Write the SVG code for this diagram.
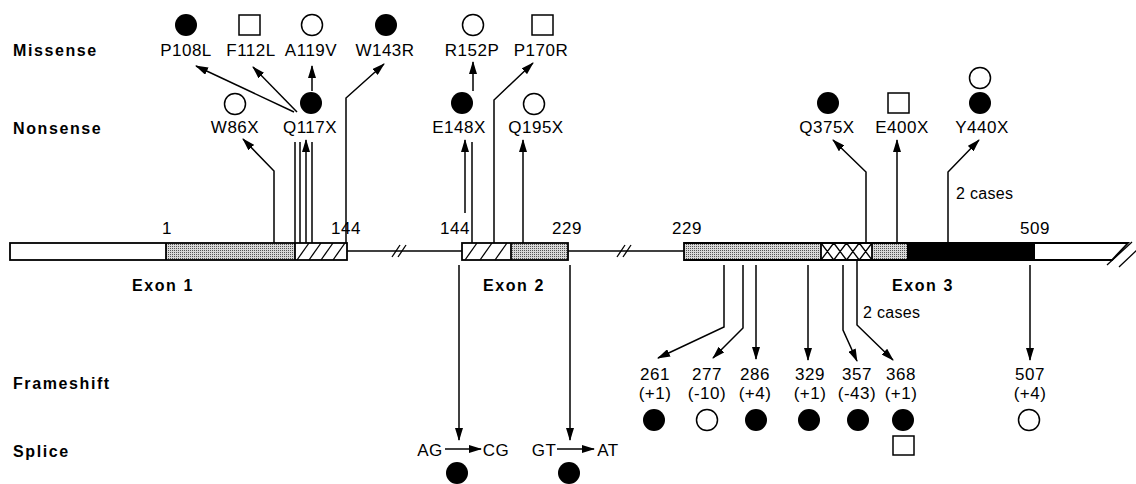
<svg xmlns="http://www.w3.org/2000/svg" width="1136" height="484" viewBox="0 0 1136 484">
<style>
text{font-family:"Liberation Sans",Arial,sans-serif;fill:#000}
.t{font-size:17px;letter-spacing:0.5px;text-anchor:middle}
.row{font-size:16px;font-weight:bold;letter-spacing:1.6px}
.ex{font-size:16px;font-weight:bold;letter-spacing:1.6px;text-anchor:middle}
.sm{font-size:16px;letter-spacing:0.3px}
.ln{stroke:#000;stroke-width:1.5;fill:none}
.ar{stroke:#000;stroke-width:1.5;fill:none;marker-end:url(#ah)}
.box{stroke:#000;stroke-width:1.8}
.fc{fill:#000}
.oc{fill:#fff;stroke:#000;stroke-width:1.5}
.sq{fill:#fff;stroke:#000;stroke-width:1.5}
.h{stroke:#000;stroke-width:1.3}
</style>
<defs>
<marker id="ah" markerUnits="userSpaceOnUse" markerWidth="13" markerHeight="8" refX="12" refY="4" orient="auto">
<path d="M0,0 L13,4 L0,8 z" fill="#000"/>
</marker>
<pattern id="dots" width="2" height="2" patternUnits="userSpaceOnUse">
<rect width="2" height="2" fill="#d8d8d8"/>
<rect width="1" height="1" fill="#555"/>
</pattern>
</defs>

<g id="row-labels">
<text class="row" x="13" y="56">Missense</text>
<text class="row" x="13" y="134">Nonsense</text>
<text class="row" x="13" y="389">Frameshift</text>
<text class="row" x="13" y="457">Splice</text>
</g>

<g id="gene">
<line class="ln" x1="347" y1="251" x2="462" y2="251"/>
<line class="ln" x1="568" y1="251" x2="684" y2="251"/>
<line class="h" x1="392" y1="257" x2="400" y2="245"/>
<line class="h" x1="398" y1="257" x2="406" y2="245"/>
<line class="h" x1="617" y1="257" x2="625" y2="245"/>
<line class="h" x1="623" y1="257" x2="631" y2="245"/>
<g id="exon1">
<rect x="10" y="243" width="156" height="17" fill="#fff"/>
<rect x="166" y="243" width="129" height="17" fill="url(#dots)"/>
<rect x="295" y="243" width="52" height="17" fill="#fff"/>
<line class="h" x1="297" y1="260" x2="309" y2="243"/>
<line class="h" x1="309" y1="260" x2="321" y2="243"/>
<line class="h" x1="321" y1="260" x2="333" y2="243"/>
<line class="h" x1="333" y1="260" x2="345" y2="243"/>
<rect class="box" x="10" y="243" width="337" height="17" fill="none"/>
<line class="box" x1="166" y1="243" x2="166" y2="260"/>
<line class="box" x1="295" y1="243" x2="295" y2="260"/>
</g>
<g id="exon2">
<rect x="462" y="243" width="49" height="17" fill="#fff"/>
<rect x="511" y="243" width="57" height="17" fill="url(#dots)"/>
<line class="h" x1="465" y1="260" x2="477" y2="243"/>
<line class="h" x1="480" y1="260" x2="492" y2="243"/>
<line class="h" x1="495" y1="260" x2="507" y2="243"/>
<rect class="box" x="462" y="243" width="106" height="17" fill="none"/>
<line class="box" x1="511" y1="243" x2="511" y2="260"/>
</g>
<g id="exon3">
<rect x="684" y="243" width="137" height="17" fill="url(#dots)"/>
<rect x="821" y="243" width="51" height="17" fill="#fff"/>
<path class="h" d="M821,243 L833.75,260 M833.75,243 L846.5,260 M846.5,243 L859.25,260 M859.25,243 L872,260 M821,260 L833.75,243 M833.75,260 L846.5,243 M846.5,260 L859.25,243 M859.25,260 L872,243"/>
<rect x="872" y="243" width="35" height="17" fill="url(#dots)"/>
<rect x="907" y="243" width="128" height="17" fill="#000"/>
<path d="M684,243 H1128 L1112,260 H684 Z" fill="none" stroke="#000" stroke-width="1.8"/>
<line class="box" x1="821" y1="243" x2="821" y2="260"/>
<line class="box" x1="872" y1="243" x2="872" y2="260"/>
<line class="h" x1="1107" y1="265" x2="1132" y2="242"/>
<line class="h" x1="1119" y1="267" x2="1138" y2="249"/>
</g>
<text class="t" x="167" y="234">1</text>
<text class="t" x="346" y="234">144</text>
<text class="t" x="455" y="234">144</text>
<text class="t" x="567" y="234">229</text>
<text class="t" x="687" y="234">229</text>
<text class="t" x="1035" y="234">509</text>
<text class="ex" x="163" y="291">Exon 1</text>
<text class="ex" x="514" y="291">Exon 2</text>
<text class="ex" x="923" y="291">Exon 3</text>
</g>

<g id="connectors">
<path class="ar" d="M274,243 V171 L243,139"/>
<path class="ln" d="M295,243 V142 M300,243 V142 M312,243 V142"/>
<path class="ar" d="M306,243 V140"/>
<path class="ar" d="M294,112 L196,66"/>
<path class="ar" d="M297,112 L253,67"/>
<path class="ar" d="M312,91 V66"/>
<path class="ar" d="M346,243 V98 L384,64"/>
<path class="ar" d="M465,213 V140"/>
<path class="ln" d="M472,243 V142"/>
<path class="ar" d="M473,91 V62"/>
<path class="ar" d="M494,243 V100 L533,63"/>
<path class="ar" d="M523,243 V140"/>
<path class="ar" d="M866,243 V172 L833,140"/>
<path class="ar" d="M897,243 V140"/>
<path class="ar" d="M948,243 V172 L979,140"/>
<path class="ar" d="M724,265 V327 L658,358"/>
<path class="ar" d="M743,265 V328 L713,358"/>
<path class="ar" d="M756,265 V359"/>
<path class="ar" d="M808,265 V360"/>
<path class="ar" d="M843,265 V330 L857,361"/>
<path class="ar" d="M857,260 V325 L893,360"/>
<path class="ar" d="M1030,265 V360"/>
<path class="ar" d="M459,265 V440"/>
<path class="ar" d="M570,265 V440"/>
<path class="ar" d="M445,449 H481"/>
<path class="ar" d="M557,449 H594"/>
</g>

<g id="missense">
<g id="m-P108L"><circle class="fc" cx="186" cy="25" r="11"/><text class="t" x="186" y="56">P108L</text></g>
<g id="m-F112L"><rect class="sq" x="239" y="15" width="21" height="20"/><text class="t" x="251" y="56">F112L</text></g>
<g id="m-A119V"><circle class="oc" cx="312" cy="25" r="10.5"/><text class="t" x="311" y="56">A119V</text></g>
<g id="m-W143R"><circle class="fc" cx="386" cy="25" r="11"/><text class="t" x="385" y="56">W143R</text></g>
<g id="m-R152P"><circle class="oc" cx="473" cy="25" r="10.5"/><text class="t" x="472" y="56">R152P</text></g>
<g id="m-P170R"><rect class="sq" x="532" y="15" width="21" height="20"/><text class="t" x="541" y="56">P170R</text></g>
</g>

<g id="nonsense">
<g id="n-W86X"><circle class="oc" cx="235" cy="104" r="10.5"/><text class="t" x="235" y="133">W86X</text></g>
<g id="n-Q117X"><circle class="fc" cx="311" cy="103" r="11"/><text class="t" x="310" y="133">Q117X</text></g>
<g id="n-E148X"><circle class="fc" cx="462" cy="103" r="11"/><text class="t" x="459" y="133">E148X</text></g>
<g id="n-Q195X"><circle class="oc" cx="534" cy="104" r="10.5"/><text class="t" x="536" y="133">Q195X</text></g>
<g id="n-Q375X"><circle class="fc" cx="828" cy="103" r="11"/><text class="t" x="827" y="133">Q375X</text></g>
<g id="n-E400X"><rect class="sq" x="888" y="93" width="21" height="20"/><text class="t" x="902" y="133">E400X</text></g>
<g id="n-Y440X"><circle class="oc" cx="980" cy="78" r="10.5"/><circle class="fc" cx="980" cy="103" r="11"/><text class="t" x="982" y="133">Y440X</text><text class="sm" x="956" y="199">2 cases</text></g>
</g>

<g id="frameshift">
<g id="f-261"><text class="t" x="655" y="380">261</text><text class="t" x="655" y="399">(+1)</text><circle class="fc" cx="654" cy="420" r="11"/></g>
<g id="f-277"><text class="t" x="707" y="380">277</text><text class="t" x="707" y="399">(-10)</text><circle class="oc" cx="707" cy="420" r="10.5"/></g>
<g id="f-286"><text class="t" x="755" y="380">286</text><text class="t" x="755" y="399">(+4)</text><circle class="fc" cx="756" cy="420" r="11"/></g>
<g id="f-329"><text class="t" x="810" y="380">329</text><text class="t" x="810" y="399">(+1)</text><circle class="fc" cx="809" cy="420" r="11"/></g>
<g id="f-357"><text class="t" x="857" y="380">357</text><text class="t" x="857" y="399">(-43)</text><circle class="fc" cx="858" cy="420" r="11"/></g>
<g id="f-368"><text class="t" x="901" y="380">368</text><text class="t" x="901" y="399">(+1)</text><circle class="fc" cx="903" cy="420" r="11"/><rect class="sq" x="893" y="436" width="21" height="19"/><text class="sm" x="863" y="318">2 cases</text></g>
<g id="f-507"><text class="t" x="1030" y="380">507</text><text class="t" x="1030" y="399">(+4)</text><circle class="oc" cx="1029" cy="420" r="10.5"/></g>
</g>

<g id="splice">
<g id="s-AG"><text class="t" x="430" y="456">AG</text><text class="t" x="496" y="456">CG</text><circle class="fc" cx="457" cy="473" r="11"/></g>
<g id="s-GT"><text class="t" x="544" y="456">GT</text><text class="t" x="608" y="456">AT</text><circle class="fc" cx="569" cy="473" r="11"/></g>
</g>
</svg>
